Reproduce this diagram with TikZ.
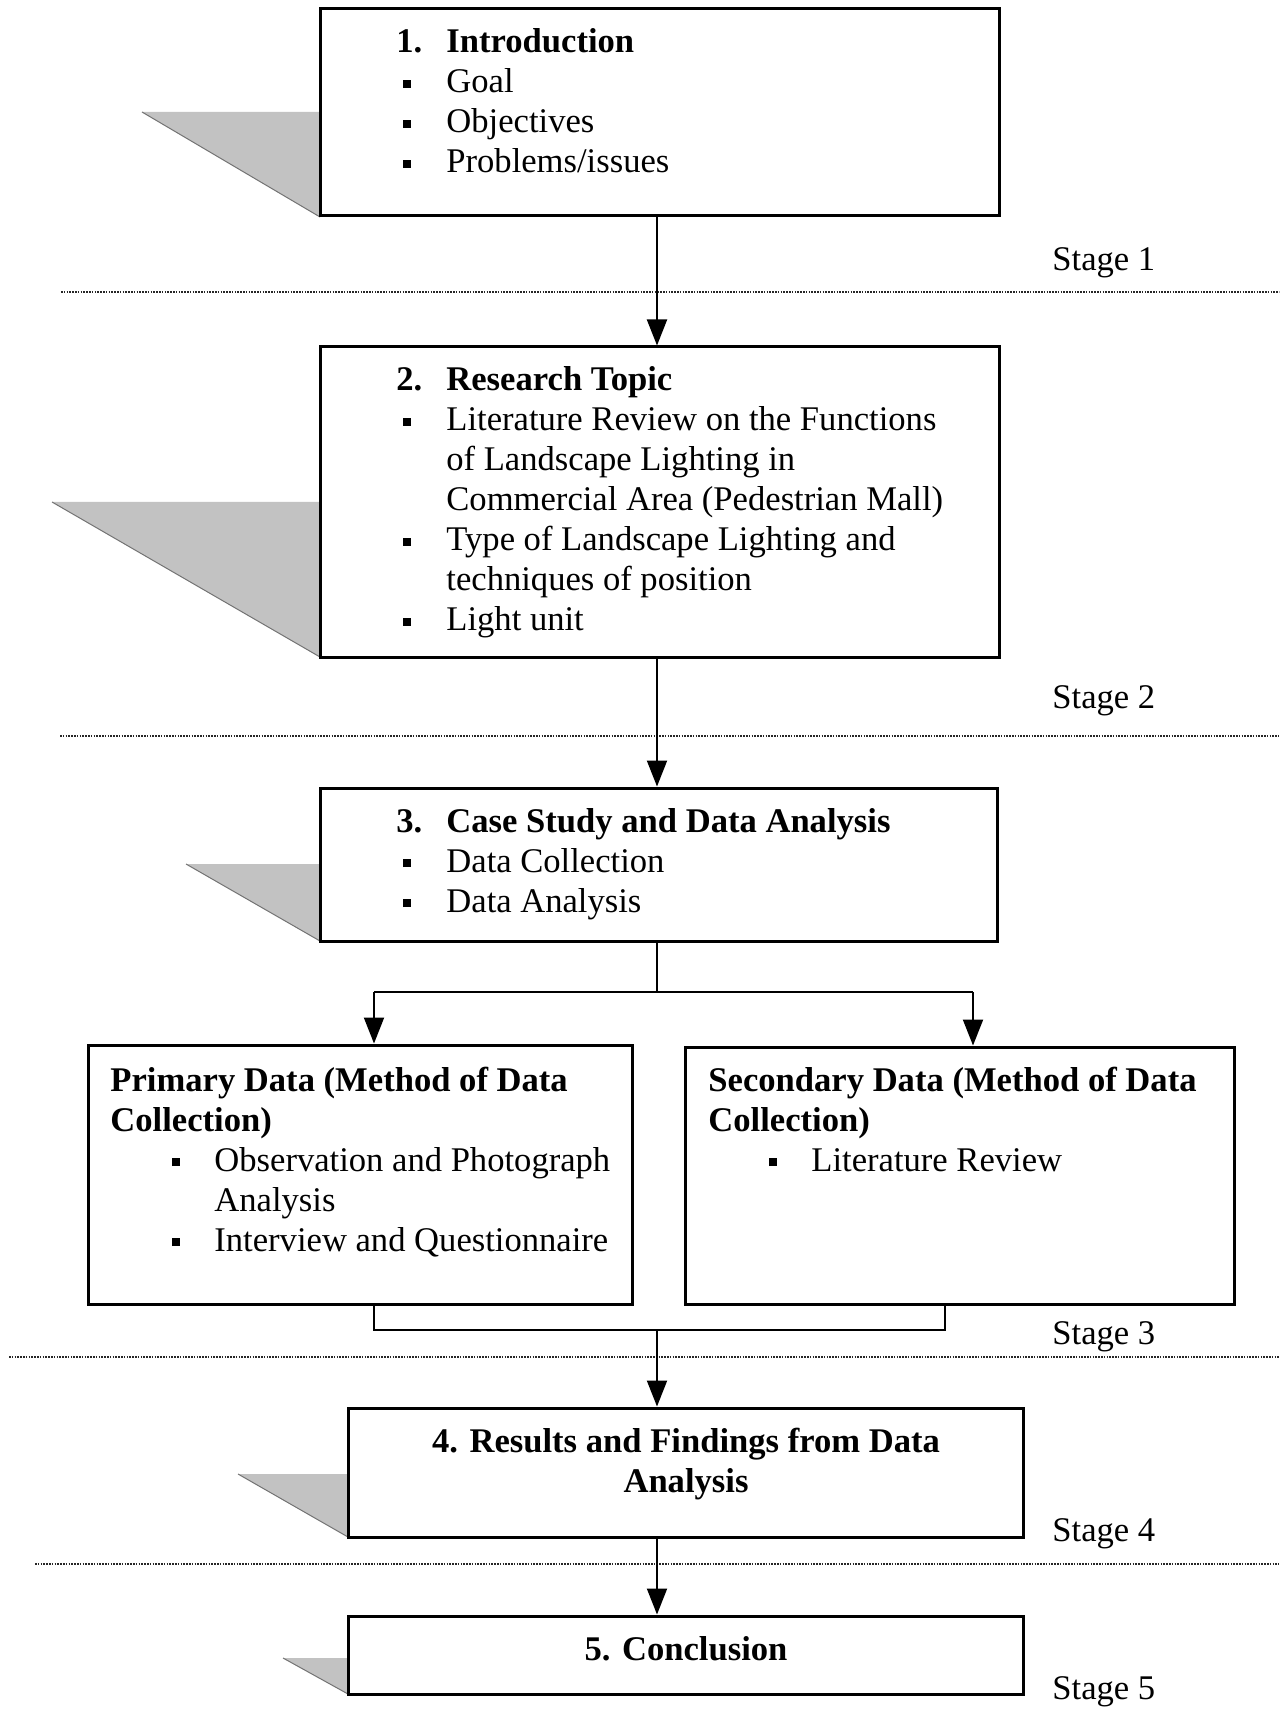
\documentclass[tikz,border=0pt]{standalone}
\usepackage{fontspec}
\setmainfont{Liberation Serif}
\usetikzlibrary{arrows.meta,fit}
\newcommand\sqb{\raisebox{2.5pt}{\rule{4pt}{4pt}}}
\newcommand\fs{\fontsize{17.3pt}{20pt}\selectfont}
\begin{document}
\begin{tikzpicture}[x=0.5pt,y=-0.5pt,
  box/.style={draw, line width=1.5pt, inner sep=0pt},
  txt/.style={anchor=base west, inner sep=0pt, font=\fs, align=left},
  ctxt/.style={anchor=base, inner sep=0pt, font=\fs\bfseries, align=center},
  tri/.style={fill=black!24},
  hyp/.style={draw=black!55, line width=0.5pt},
  arr/.style={-{Triangle[length=13pt,width=10pt]}, line width=1pt},
  con/.style={line width=1pt},
  sepline/.style={line width=1.4pt, dash pattern=on 0.8pt off 0.6pt, black!85}]
\useasboundingbox (0,0) rectangle (1279,1716);

% shaded triangles
\fill[tri] (142,112) -- (320,112) -- (320,217) -- cycle;
\draw[hyp] (142,112) -- (320,217);
\fill[tri] (52,502) -- (320,502) -- (320,657) -- cycle;
\draw[hyp] (52,502) -- (320,657);
\fill[tri] (186,864) -- (320,864) -- (320,941) -- cycle;
\draw[hyp] (186,864) -- (320,941);
\fill[tri] (238,1474) -- (348,1474) -- (348,1537) -- cycle;
\draw[hyp] (238,1474) -- (348,1537);
\fill[tri] (283,1658) -- (348,1658) -- (348,1694) -- cycle;
\draw[hyp] (283,1658) -- (348,1694);

% boxes
\node[box, fit={(320,9) (999,216)}] (b1) {};
\node[box, fit={(320,347) (999,657)}] (b2) {};
\node[box, fit={(320,788) (997,941)}] (b3) {};
\node[box, fit={(88,1045) (632,1304)}] (bp) {};
\node[box, fit={(685,1047) (1234,1304)}] (bs) {};
\node[box, fit={(348,1408) (1023,1537)}] (b4) {};
\node[box, fit={(348,1616) (1023,1694)}] (b5) {};

% box texts
\node[txt] (t1) at (396,53) {\begin{tabular}[t]{@{}p{25pt}@{}l@{}}
\textbf{1.} & \textbf{Introduction}\\
\hspace{3.5pt}\sqb & Goal\\
\hspace{3.5pt}\sqb & Objectives\\
\hspace{3.5pt}\sqb & Problems/issues
\end{tabular}};
\node[txt] (t2) at (396,391) {\begin{tabular}[t]{@{}p{25pt}@{}l@{}}
\textbf{2.} & \textbf{Research Topic}\\
\hspace{3.5pt}\sqb & Literature Review on the Functions\\
 & of Landscape Lighting in\\
 & Commercial Area (Pedestrian Mall)\\
\hspace{3.5pt}\sqb & Type of Landscape Lighting and\\
 & techniques of position\\
\hspace{3.5pt}\sqb & Light unit
\end{tabular}};
\node[txt] (t3) at (396,832) {\begin{tabular}[t]{@{}p{25pt}@{}l@{}}
\textbf{3.} & \textbf{Case Study and Data Analysis}\\
\hspace{3.5pt}\sqb & Data Collection\\
\hspace{3.5pt}\sqb & Data Analysis
\end{tabular}};
\node[txt] (tp) at (110,1091) {\begin{tabular}[t]{@{\hspace{31pt}}p{21pt}@{}l@{}}
\multicolumn{2}{@{}l@{}}{\textbf{Primary Data (Method of Data}}\\
\multicolumn{2}{@{}l@{}}{\textbf{Collection)}}\\
\sqb & Observation and Photograph\\
 & Analysis\\
\sqb & Interview and Questionnaire
\end{tabular}};
\node[txt] (ts) at (708,1091) {\begin{tabular}[t]{@{\hspace{30.5pt}}p{21pt}@{}l@{}}
\multicolumn{2}{@{}l@{}}{\textbf{Secondary Data (Method of Data}}\\
\multicolumn{2}{@{}l@{}}{\textbf{Collection)}}\\
\sqb & Literature Review
\end{tabular}};
\node[ctxt] (t4a) at (686,1452) {4. Results and Findings from Data};
\node[ctxt] (t4b) at (686,1492) {Analysis};
\node[ctxt] (t5) at (686,1660) {5. Conclusion};

% stage labels
\node[txt] (s1) at (1052,271) {Stage 1};
\node[txt] (s2) at (1052,708) {Stage 2};
\node[txt] (s3) at (1052,1344) {Stage 3};
\node[txt] (s4) at (1052,1541) {Stage 4};
\node[txt] (s5) at (1052,1699) {Stage 5};

% stage separators
\coordinate (d1a) at (61,292); \coordinate (d1b) at (1279,292);
\coordinate (d2a) at (60,736); \coordinate (d2b) at (1279,736);
\coordinate (d3a) at (9,1357); \coordinate (d3b) at (1279,1357);
\coordinate (d4a) at (35,1564); \coordinate (d4b) at (1279,1564);
\draw[sepline] (d1a) -- (d1b);
\draw[sepline] (d2a) -- (d2b);
\draw[sepline] (d3a) -- (d3b);
\draw[sepline] (d4a) -- (d4b);

% connectors
\coordinate (c1) at (657,216);
\draw[arr] (c1) -- (c1 |- b2.north);
\coordinate (c2) at (657,657);
\draw[arr] (c2) -- (c2 |- b3.north);
\coordinate (c3) at (657,941);
\coordinate (sp) at (657,992);
\coordinate (spl) at (374,992);
\coordinate (spr) at (973,992);
\draw[con] (c3) -- (sp);
\draw[con] (spl) -- (spr);
\draw[arr] (spl) -- (spl |- bp.north);
\draw[arr] (spr) -- (spr |- bs.north);
\coordinate (bl) at (374,1330);
\coordinate (br) at (945,1330);
\coordinate (bm) at (657,1330);
\draw[con] (bl |- bp.south) -- (bl) -- (br) -- (br |- bs.south);
\draw[arr] (bm) -- (bm |- b4.north);
\coordinate (c4) at (657,1537);
\draw[arr] (c4) -- (c4 |- b5.north);
\end{tikzpicture}
\end{document}
